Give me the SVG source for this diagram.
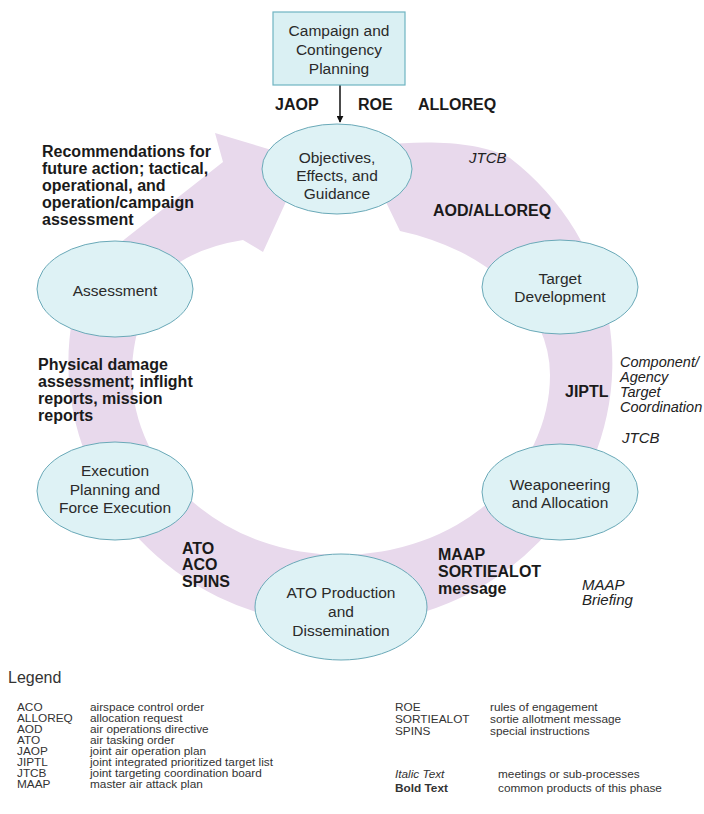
<svg xmlns="http://www.w3.org/2000/svg" width="704" height="814" viewBox="0 0 704 814">
<defs>
<marker id="ah" viewBox="0 0 10 10" refX="9" refY="5" markerWidth="7" markerHeight="7" orient="auto" markerUnits="userSpaceOnUse">
<path d="M0,0 L10,5 L0,10 z" fill="#111"/>
</marker>
<style>
.node{fill:#def2f5;stroke:#6aa9b8;stroke-width:1}
.box{fill:#daf0f3;stroke:#6fb4c2;stroke-width:1.2}
.nt{font-family:"Liberation Sans",Arial,sans-serif;font-size:15.5px;fill:#2a2a2a;text-anchor:middle}
.b{font-family:"Liberation Sans",Arial,sans-serif;font-size:16px;font-weight:bold;fill:#1a1a1a}
.i{font-family:"Liberation Sans",Arial,sans-serif;font-size:15px;font-style:italic;fill:#222}
.is{font-family:"Liberation Sans",Arial,sans-serif;font-size:14.5px;font-style:italic;fill:#222}
.lg{font-family:"Liberation Sans",Arial,sans-serif;font-size:11.8px;fill:#333}
.band{fill:#e8d9ec;stroke:none}
</style>
</defs>
<rect width="704" height="814" fill="#ffffff"/>

<g id="cycle-band">
<path class="band" d="M380,145 C430,140 480,142 510,158 A272 262 0 1 1 86,270 L130,235 L223,162 L215,133 L305,160 L263,252 L243,240 Q205,246 180,262 C150,282 132,330 132,375 A209 180 0 0 0 550,375 A209 150 0 0 0 400,231 L385,200 Z"/>
</g>

<g id="connectors">
<line x1="340" y1="85" x2="340" y2="122" stroke="#111" stroke-width="1.5" marker-end="url(#ah)"/>
</g>

<g id="campaign">
<rect class="box" x="273" y="12" width="132" height="73"/>
<text class="nt" x="339" y="36">Campaign and</text>
<text class="nt" x="339" y="55">Contingency</text>
<text class="nt" x="339" y="74">Planning</text>
</g>

<g id="objectives">
<ellipse class="node" cx="337" cy="169" rx="75" ry="45"/>
<text class="nt" x="337" y="163">Objectives,</text>
<text class="nt" x="337" y="181">Effects, and</text>
<text class="nt" x="337" y="199">Guidance</text>
</g>

<g id="target">
<ellipse class="node" cx="560" cy="287" rx="78" ry="47"/>
<text class="nt" x="560" y="284">Target</text>
<text class="nt" x="560" y="302">Development</text>
</g>

<g id="weaponeering">
<ellipse class="node" cx="560" cy="492" rx="78" ry="48"/>
<text class="nt" x="560" y="490">Weaponeering</text>
<text class="nt" x="560" y="508">and Allocation</text>
</g>

<g id="ato-production">
<ellipse class="node" cx="341" cy="607" rx="86" ry="53"/>
<text class="nt" x="341" y="598">ATO Production</text>
<text class="nt" x="341" y="617">and</text>
<text class="nt" x="341" y="636">Dissemination</text>
</g>

<g id="execution">
<ellipse class="node" cx="115" cy="491" rx="78" ry="49"/>
<text class="nt" x="115" y="476">Execution</text>
<text class="nt" x="115" y="495">Planning and</text>
<text class="nt" x="115" y="513">Force Execution</text>
</g>

<g id="assessment">
<ellipse class="node" cx="115" cy="289" rx="78" ry="48"/>
<text class="nt" x="115" y="296">Assessment</text>
</g>

<g id="labels">
<text class="b" x="275" y="110">JAOP</text>
<text class="b" x="358" y="110">ROE</text>
<text class="b" x="418" y="110">ALLOREQ</text>
<text class="i" x="469" y="163">JTCB</text>
<text class="b" x="433" y="216">AOD/ALLOREQ</text>
<text class="b" x="42" y="157">Recommendations for</text>
<text class="b" x="42" y="174">future action; tactical,</text>
<text class="b" x="42" y="191">operational, and</text>
<text class="b" x="42" y="208">operation/campaign</text>
<text class="b" x="42" y="225">assessment</text>
<text class="b" x="38" y="370">Physical damage</text>
<text class="b" x="38" y="387">assessment; inflight</text>
<text class="b" x="38" y="404">reports, mission</text>
<text class="b" x="38" y="421">reports</text>
<text class="b" x="565" y="397">JIPTL</text>
<text class="is" x="620" y="367">Component/</text>
<text class="is" x="620" y="382">Agency</text>
<text class="is" x="620" y="397">Target</text>
<text class="is" x="620" y="412">Coordination</text>
<text class="i" x="622" y="443">JTCB</text>
<text class="b" x="182" y="554">ATO</text>
<text class="b" x="182" y="570">ACO</text>
<text class="b" x="182" y="587">SPINS</text>
<text class="b" x="438" y="560">MAAP</text>
<text class="b" x="438" y="577">SORTIEALOT</text>
<text class="b" x="438" y="594">message</text>
<text class="i" x="582" y="590">MAAP</text>
<text class="i" x="582" y="605">Briefing</text>
</g>

<g id="legend">
<text x="8" y="683" font-family="Liberation Sans, Arial, sans-serif" font-size="16" fill="#333">Legend</text>
<text class="lg" x="17" y="711">ACO</text><text class="lg" x="90" y="711">airspace control order</text>
<text class="lg" x="17" y="722">ALLOREQ</text><text class="lg" x="90" y="722">allocation request</text>
<text class="lg" x="17" y="733">AOD</text><text class="lg" x="90" y="733">air operations directive</text>
<text class="lg" x="17" y="744">ATO</text><text class="lg" x="90" y="744">air tasking order</text>
<text class="lg" x="17" y="755">JAOP</text><text class="lg" x="90" y="755">joint air operation plan</text>
<text class="lg" x="17" y="766">JIPTL</text><text class="lg" x="90" y="766">joint integrated prioritized target list</text>
<text class="lg" x="17" y="777">JTCB</text><text class="lg" x="90" y="777">joint targeting coordination board</text>
<text class="lg" x="17" y="788">MAAP</text><text class="lg" x="90" y="788">master air attack plan</text>
<text class="lg" x="395" y="711">ROE</text><text class="lg" x="490" y="711">rules of engagement</text>
<text class="lg" x="395" y="723">SORTIEALOT</text><text class="lg" x="490" y="723">sortie allotment message</text>
<text class="lg" x="395" y="735">SPINS</text><text class="lg" x="490" y="735">special instructions</text>
<text class="lg" x="395" y="778" font-style="italic">Italic Text</text><text class="lg" x="498" y="778">meetings or sub-processes</text>
<text class="lg" x="395" y="792" font-weight="bold">Bold Text</text><text class="lg" x="498" y="792">common products of this phase</text>
</g>
</svg>
